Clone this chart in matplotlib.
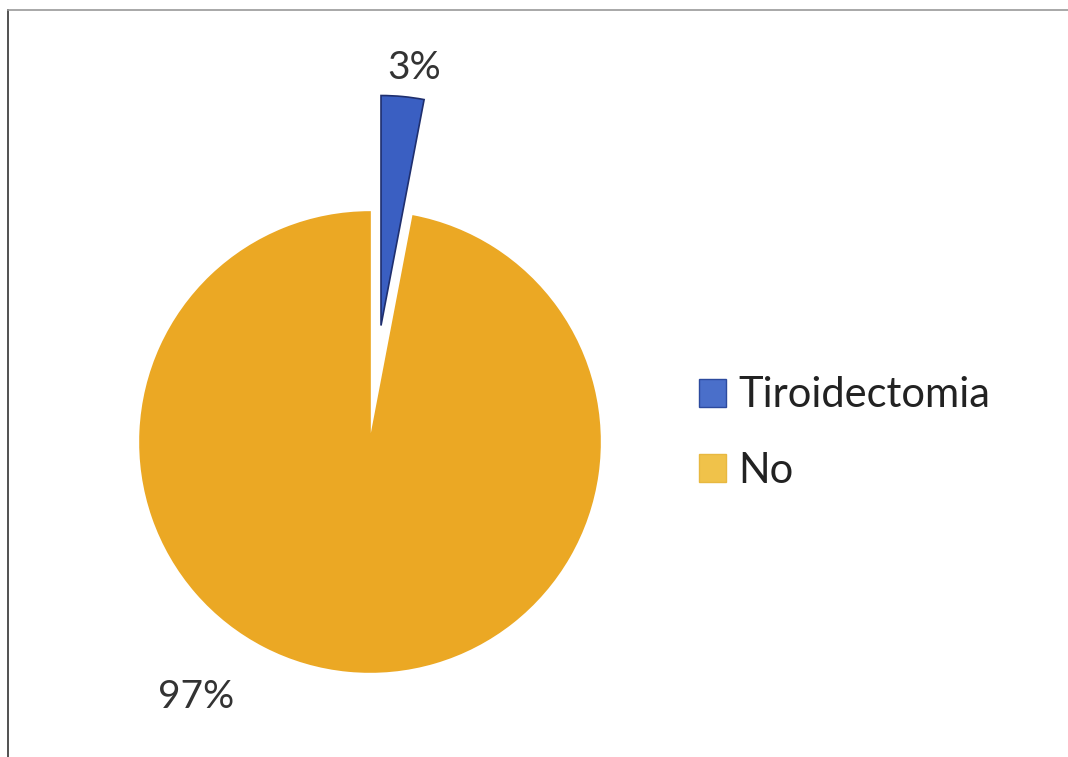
import matplotlib
matplotlib.use("Agg")
import matplotlib.pyplot as plt
from matplotlib.patches import Rectangle
from matplotlib.lines import Line2D

categories = ["Tiroidectomia", "No"]
percentages = [3, 97]
colors = ["#3a5fc2", "#eba824"]
edge_colors = ["#1f2f6e", "#eba824"]

W, H = 1068, 757
fig = plt.figure(figsize=(W / 100, H / 100), dpi=100)
fig.patch.set_facecolor("white")
ax = fig.add_axes([0, 0, 1, 1])

font = "Lato"
cx, cy, r = 370, H - 442, 230

# explode distance is in data units (pixels here)
wedges, _ = ax.pie(
    percentages,
    colors=colors,
    startangle=90,
    counterclock=False,
    explode=[117, 0],
    center=(cx, cy),
    radius=r,
    wedgeprops=dict(linewidth=1.2),
    frame=True,
)
for w, ec in zip(wedges, edge_colors):
    w.set_edgecolor(ec)
ax.set_xlim(0, W)
ax.set_ylim(0, H)
ax.set_aspect("equal")
ax.axis("off")

# percentage labels
ax.text(414, H - 68, f"{percentages[0]}%", fontsize=28, family=font,
        color="#333333", ha="center", va="center")
ax.text(196, H - 697, f"{percentages[1]}%", fontsize=28, family=font,
        color="#333333", ha="center", va="center")

# legend
handles = [Rectangle((0, 0), 1, 1, facecolor=c, edgecolor=ec, linewidth=1)
           for c, ec in zip(["#4a6fca", "#f0c24a"], ["#2c4a9e", "#e8b840"])]
leg = fig.legend(handles, categories, loc="center left",
                 bbox_to_anchor=(699 / W, 1 - 433 / H),
                 frameon=False, prop={"family": font, "size": 30},
                 handlelength=0.65, handleheight=0.65, handletextpad=0.3,
                 labelspacing=0.9, borderaxespad=0, borderpad=0)
for t in leg.get_texts():
    t.set_color("#222222")

# chart frame
fig.add_artist(Line2D([8 / W, 8 / W], [0, 1 - 10 / H], color="#333333",
                      linewidth=1.2, transform=fig.transFigure))
fig.add_artist(Line2D([8 / W, 1], [1 - 10 / H, 1 - 10 / H], color="#9a9a9a",
                      linewidth=1.2, transform=fig.transFigure))

fig.savefig("out.png", dpi=100, facecolor="white")
